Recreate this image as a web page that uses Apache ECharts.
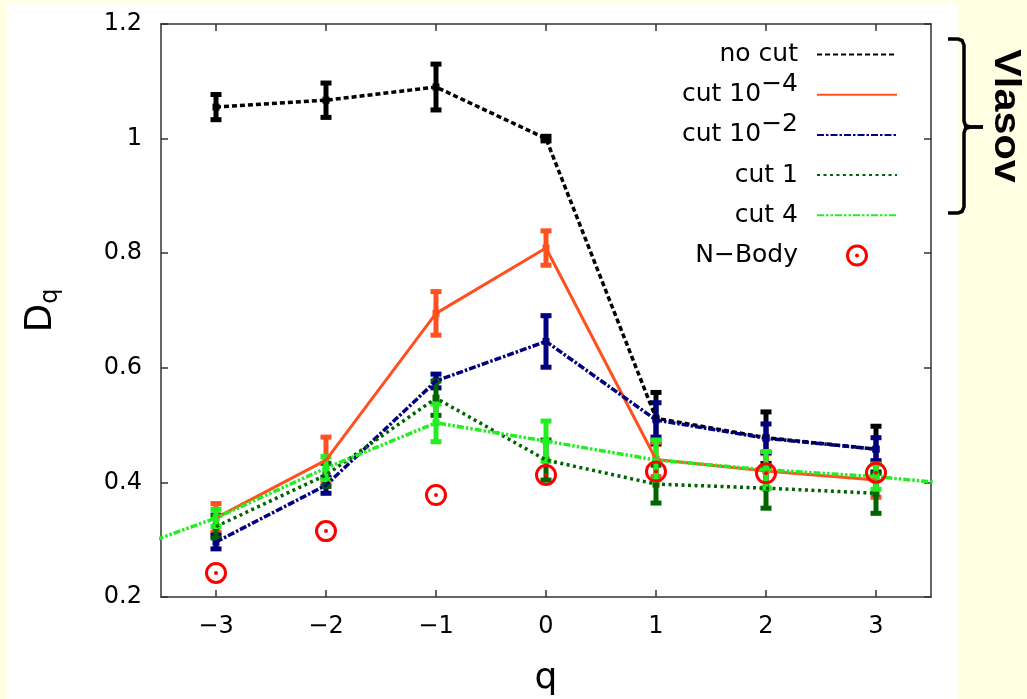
<!DOCTYPE html>
<html>
<head>
<meta charset="utf-8">
<script src="https://cdn.jsdelivr.net/npm/echarts@6/dist/echarts.min.js"></script>
<style>
html,body{margin:0;padding:0;background:#ffffff;}
#chart{width:1027px;height:699px;}
</style>
</head>
<body>
<div id="chart"></div>
<script>
// ---- data ----
const qValues = [-3, -2, -1, 0, 1, 2, 3];
const qTicks = [-3, -2, -1, 0, 1, 2, 3];
const yTicks = [0.2, 0.4, 0.6, 0.8, 1, 1.2];

const noCut      = [1.055, 1.067, 1.090, 1.000, 0.512, 0.478, 0.458];
const noCutErr   = [0.022, 0.030, 0.040, 0.004, 0.045, 0.045, 0.040];

const cut1e4     = [0.338, 0.439, 0.695, 0.809, 0.440, 0.420, 0.404];
const cut1e4Err  = [0.025, 0.040, 0.038, 0.030, 0.030, 0.030, 0.030];

const cut1e2     = [0.296, 0.395, 0.577, 0.646, 0.509, 0.477, 0.458];
const cut1e2Err  = [0.012, 0.014, 0.012, 0.045, 0.030, 0.025, 0.020];

const cut1       = [0.323, 0.413, 0.547, 0.439, 0.397, 0.390, 0.381];
const cut1Err    = [0.020, 0.020, 0.030, 0.035, 0.033, 0.035, 0.035];

// cut 4 line continues past the plotted range on both sides
const cut4Q      = [-4, -3, -2, -1, 0, 1, 2, 3, 4];
const cut4       = [0.268, 0.338, 0.425, 0.504, 0.472, 0.439, 0.422, 0.410, 0.392];
const cut4Err    = [null, 0.015, 0.020, 0.033, 0.035, 0.035, 0.032, 0.022, null];

const nBody      = [0.242, 0.315, 0.378, 0.413, 0.419, 0.416, 0.417];

const seriesNames = ['no cut', 'cut 10^−4', 'cut 10^−2', 'cut 1', 'cut 4', 'N−Body'];
const seriesColors = ['#000000', '#ff5020', '#000080', '#006400', '#22ee22', '#ff0000'];

// ---- helpers ----
const FONT = 'DejaVu Sans';
function pairs(xs, ys) { return xs.map((x, i) => [x, ys[i]]); }
function triples(xs, ys, es) {
  const out = [];
  xs.forEach((x, i) => { if (es[i] != null) out.push([x, ys[i], es[i]]); });
  return out;
}
function errorRender(color) {
  return function (params, api) {
    const x = api.value(0), y = api.value(1), e = api.value(2);
    const top = api.coord([x, y + e]);
    const bot = api.coord([x, y - e]);
    const mid = api.coord([x, y]);
    const capW = 11, capH = 5, barW = 5;
    return {
      type: 'group',
      children: [
        {type: 'rect', shape: {x: top[0] - barW / 2, y: top[1], width: barW, height: bot[1] - top[1]}, style: {fill: color}},
        {type: 'rect', shape: {x: top[0] - capW / 2, y: top[1] - capH / 2, width: capW, height: capH}, style: {fill: color}},
        {type: 'rect', shape: {x: bot[0] - capW / 2, y: bot[1] - capH / 2, width: capW, height: capH}, style: {fill: color}},
        {type: 'rect', shape: {x: mid[0] - 3.5, y: mid[1] - 3.5, width: 7, height: 7}, style: {fill: color}}
      ]
    };
  };
}
function lineSeries(name, color, data, dash, width) {
  return {
    name: name, type: 'line', data: data, symbol: 'none', showSymbol: false, clip: true,
    lineStyle: {color: color, width: width, type: dash, cap: 'butt'},
    itemStyle: {color: color},
    emphasis: {disabled: true}, silent: true, animation: false
  };
}
function errSeries(name, color, data) {
  return {
    name: name + ' err', type: 'custom', data: data, clip: true,
    renderItem: errorRender(color), encode: {x: 0, y: 1},
    silent: true, animation: false
  };
}

const ringPath = 'path://M0,11 A11,11 0 1,1 22,11 A11,11 0 1,1 0,11 Z ' +
                 'M3,11 A8,8 0 1,0 19,11 A8,8 0 1,0 3,11 Z ' +
                 'M9,11 A2,2 0 1,1 13,11 A2,2 0 1,1 9,11 Z';

const series = [
  lineSeries(seriesNames[0], seriesColors[0], pairs(qValues, noCut), [5, 3], 3.5),
  errSeries(seriesNames[0], seriesColors[0], triples(qValues, noCut, noCutErr)),
  lineSeries(seriesNames[1], seriesColors[1], pairs(qValues, cut1e4), 'solid', 3),
  errSeries(seriesNames[1], seriesColors[1], triples(qValues, cut1e4, cut1e4Err)),
  lineSeries(seriesNames[2], seriesColors[2], pairs(qValues, cut1e2), [7, 2, 2.5, 2], 3.5),
  errSeries(seriesNames[2], seriesColors[2], triples(qValues, cut1e2, cut1e2Err)),
  lineSeries(seriesNames[3], seriesColors[3], pairs(qValues, cut1), [3, 3.5], 3.5),
  errSeries(seriesNames[3], seriesColors[3], triples(qValues, cut1, cut1Err)),
  lineSeries(seriesNames[4], seriesColors[4], pairs(cut4Q, cut4), [7, 2, 2.5, 2, 2.5, 2], 3.5),
  errSeries(seriesNames[4], seriesColors[4], triples(cut4Q, cut4, cut4Err)),
  {
    name: seriesNames[5], type: 'scatter', data: pairs(qValues, nBody),
    symbol: ringPath, symbolSize: 22, itemStyle: {color: seriesColors[5], opacity: 1},
    emphasis: {disabled: true}, silent: true, animation: false, z: 5
  }
];

const legendData = seriesNames.map((n, i) =>
  i < 5 ? {name: n, itemStyle: {opacity: 0}} : {name: n});

const axisLineStyle = {color: '#333333', width: 1.5};
const minus = v => String(v).replace('-', '\u2212');

const option = {
  backgroundColor: '#ffffff',
  animation: false,
  grid: {left: 161, right: 96, top: 24, bottom: 102, containLabel: false, outerBoundsMode: 'none'},
  xAxis: [
    {
      type: 'value', min: -3.5, max: 3.5, position: 'bottom',
      name: 'q', nameLocation: 'middle', nameGap: 64,
      nameTextStyle: {fontFamily: FONT, fontSize: 36, color: '#000'},
      axisLine: {show: true, onZero: false, lineStyle: axisLineStyle},
      axisTick: {show: true, inside: true, length: 7, customValues: qTicks, lineStyle: axisLineStyle},
      axisLabel: {show: true, customValues: qTicks, formatter: minus, fontFamily: FONT, fontSize: 24, color: '#000', margin: 18},
      splitLine: {show: false}
    },
    {
      type: 'value', min: -3.5, max: 3.5, position: 'top',
      axisLine: {show: true, onZero: false, lineStyle: axisLineStyle},
      axisTick: {show: true, inside: true, length: 7, customValues: qTicks, lineStyle: axisLineStyle},
      axisLabel: {show: false},
      splitLine: {show: false}
    }
  ],
  yAxis: [
    {
      type: 'value', min: 0.2, max: 1.2, interval: 0.2, position: 'left',
      name: '{d|D}{s|q}', nameLocation: 'middle', nameGap: 98, nameRotate: 90,
      nameTextStyle: {
        fontFamily: FONT, color: '#000',
        rich: {
          d: {fontFamily: FONT, fontSize: 37, lineHeight: 44, color: '#000'},
          s: {fontFamily: FONT, fontSize: 24, lineHeight: 24, verticalAlign: 'bottom', color: '#000'}
        }
      },
      axisLine: {show: true, onZero: false, lineStyle: axisLineStyle},
      axisTick: {show: true, inside: true, length: 7, lineStyle: axisLineStyle},
      axisLabel: {show: true, fontFamily: FONT, fontSize: 24, color: '#000', margin: 19},
      splitLine: {show: false}
    },
    {
      type: 'value', min: 0.2, max: 1.2, interval: 0.2, position: 'right',
      axisLine: {show: true, onZero: false, lineStyle: axisLineStyle},
      axisTick: {show: true, inside: true, length: 7, lineStyle: axisLineStyle},
      axisLabel: {show: false},
      splitLine: {show: false}
    }
  ],
  legend: {
    data: legendData,
    orient: 'vertical', align: 'right',
    right: 129, top: 32, padding: 0,
    itemWidth: 80, itemHeight: 22, itemGap: 3.7,
    selectedMode: false,
    formatter: name => name.replace(/\^(\S+)/, '{sup|$1}') + '{gap| }',
    textStyle: {
      fontFamily: FONT, fontSize: 25, lineHeight: 28, color: '#000',
      rich: {
        sup: {fontFamily: FONT, fontSize: 25, lineHeight: 28, height: 8, verticalAlign: 'top', color: '#000'},
        gap: {width: 14, fontFamily: FONT, fontSize: 25, lineHeight: 28, height: 8, verticalAlign: 'top'}
      }
    }
  },
  graphic: [
    {type: 'rect', x: 0, y: 0, shape: {x: 0, y: 0, width: 7, height: 699}, style: {fill: '#ffffe3'}, silent: true},
    {type: 'rect', x: 0, y: 0, shape: {x: 0, y: 0, width: 1027, height: 4}, style: {fill: '#ffffe3'}, silent: true},
    {type: 'rect', x: 0, y: 0, shape: {x: 958, y: 0, width: 69, height: 699}, style: {fill: '#ffffe3'}, silent: true},
    {
      type: 'polyline', silent: true,
      shape: {points: [[948,39],[958,39],[962,40.5],[964,45],[964,121],[965.5,125.5],[970,127],[983,127]]},
      style: {fill: null, stroke: '#000', lineWidth: 3.5}
    },
    {
      type: 'polyline', silent: true,
      shape: {points: [[983,127],[970,127],[965.5,128.5],[964,133],[964,207],[962,211.5],[958,213],[948,213]]},
      style: {fill: null, stroke: '#000', lineWidth: 3.5}
    },
    {
      type: 'text', x: 1005, y: 116, rotation: -Math.PI / 2, scaleX: 1.15, silent: true,
      style: {text: 'Vlasov', font: 'bold 36px "Liberation Sans"', fill: '#000', align: 'center', verticalAlign: 'middle'}
    }
  ],
  series: series
};

const chart = echarts.init(document.getElementById('chart'), null, {renderer: 'canvas'});
chart.setOption(option);
</script>
</body>
</html>
